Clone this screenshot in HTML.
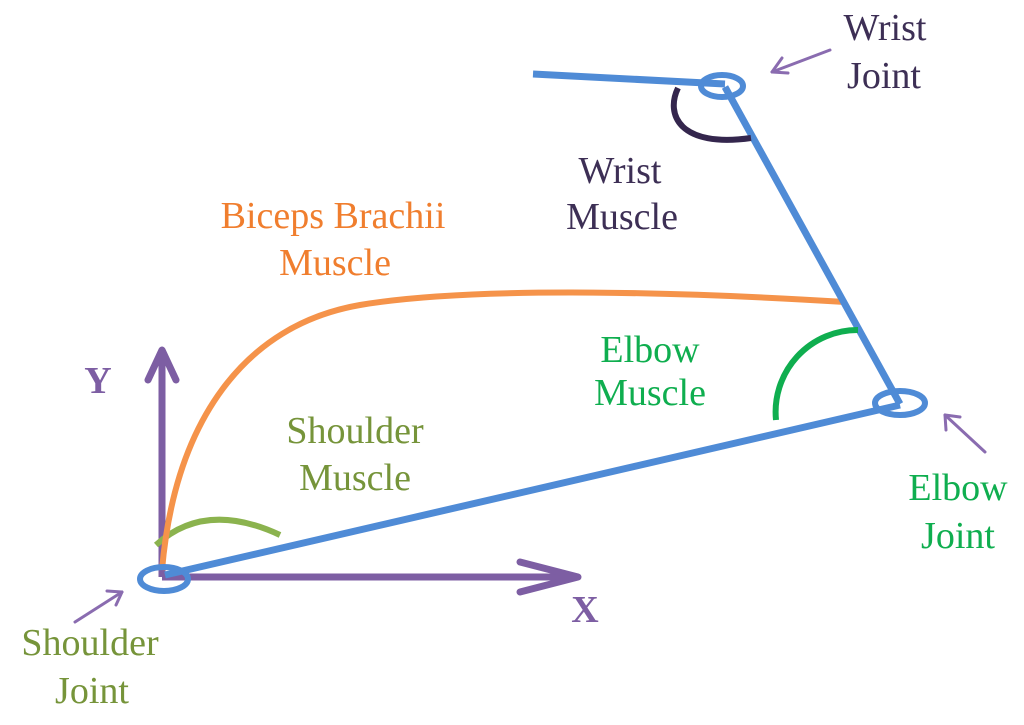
<!DOCTYPE html>
<html><head><meta charset="utf-8"><style>
html,body{margin:0;padding:0;background:#fff;}
svg{display:block}
text{font-family:"Liberation Serif",serif;font-size:38px;text-anchor:middle}
</style></head><body>
<svg width="1024" height="725" viewBox="0 0 1024 725" xmlns="http://www.w3.org/2000/svg">
<g fill="none" stroke-linecap="butt">
<line x1="162" y1="577" x2="578" y2="577" stroke="#7d5ea3" stroke-width="7"/>
<polyline points="520,562 578,577 520,592" stroke="#7d5ea3" stroke-width="7" stroke-linecap="round" stroke-linejoin="round"/>
<line x1="162" y1="577" x2="162" y2="350" stroke="#7d5ea3" stroke-width="7"/>
<polyline points="148,380 162,350 176,380" stroke="#7d5ea3" stroke-width="7" stroke-linecap="round" stroke-linejoin="round"/>
<path d="M156,545 Q205,500 280,535" stroke="#8bb34e" stroke-width="6"/>
<path d="M162,570 C175,420 245,325 360,305 C480,285 700,293 845,302" stroke="#f5934a" stroke-width="6"/>
<line x1="165" y1="575" x2="900" y2="405" stroke="#4f8bd6" stroke-width="7"/>
<line x1="900" y1="404" x2="725" y2="87" stroke="#4f8bd6" stroke-width="7"/>
<line x1="533" y1="74" x2="725" y2="84" stroke="#4f8bd6" stroke-width="7"/>
<path d="M776,420 A82,82 0 0 1 858,330" stroke="#0fae4f" stroke-width="6"/>
<path d="M678,88 C665,115 680,148 751,138" stroke="#34264d" stroke-width="6"/>
<ellipse cx="164" cy="579" rx="24" ry="12" stroke="#4f8bd6" stroke-width="6"/>
<ellipse cx="900" cy="403" rx="25" ry="12" stroke="#4f8bd6" stroke-width="6"/>
<ellipse cx="722" cy="86" rx="21" ry="11" stroke="#4f8bd6" stroke-width="6"/>
<g stroke="#8a6cb0" stroke-width="3" stroke-linecap="round" stroke-linejoin="round">
<line x1="830" y1="50" x2="772" y2="72"/><polyline points="782,58 772,72 788,73"/>
<line x1="985" y1="452" x2="945" y2="415"/><polyline points="946,430 945,415 960,417"/>
<line x1="75" y1="622" x2="122" y2="592"/><polyline points="107,591 122,592 116,605"/>
</g>
</g>
<text x="885" y="40" fill="#3d2f55">Wrist</text>
<text x="884" y="88" fill="#3d2f55">Joint</text>
<text x="620" y="183" fill="#3d2f55">Wrist</text>
<text x="622" y="229" fill="#3d2f55">Muscle</text>
<text x="333" y="228" fill="#f07e2e">Biceps Brachii</text>
<text x="335" y="275" fill="#f07e2e">Muscle</text>
<text x="650" y="362" fill="#0fae4f">Elbow</text>
<text x="650" y="405" fill="#0fae4f">Muscle</text>
<text x="355" y="443" fill="#76943a">Shoulder</text>
<text x="355" y="490" fill="#76943a">Muscle</text>
<text x="958" y="500" fill="#0fae4f">Elbow</text>
<text x="958" y="548" fill="#0fae4f">Joint</text>
<text x="90" y="655" fill="#76943a">Shoulder</text>
<text x="92" y="703" fill="#76943a">Joint</text>
<text x="98" y="393" fill="#7d5ea3" font-weight="bold">Y</text>
<text x="585" y="622" fill="#7d5ea3" font-weight="bold">X</text>
</svg>
</body></html>
